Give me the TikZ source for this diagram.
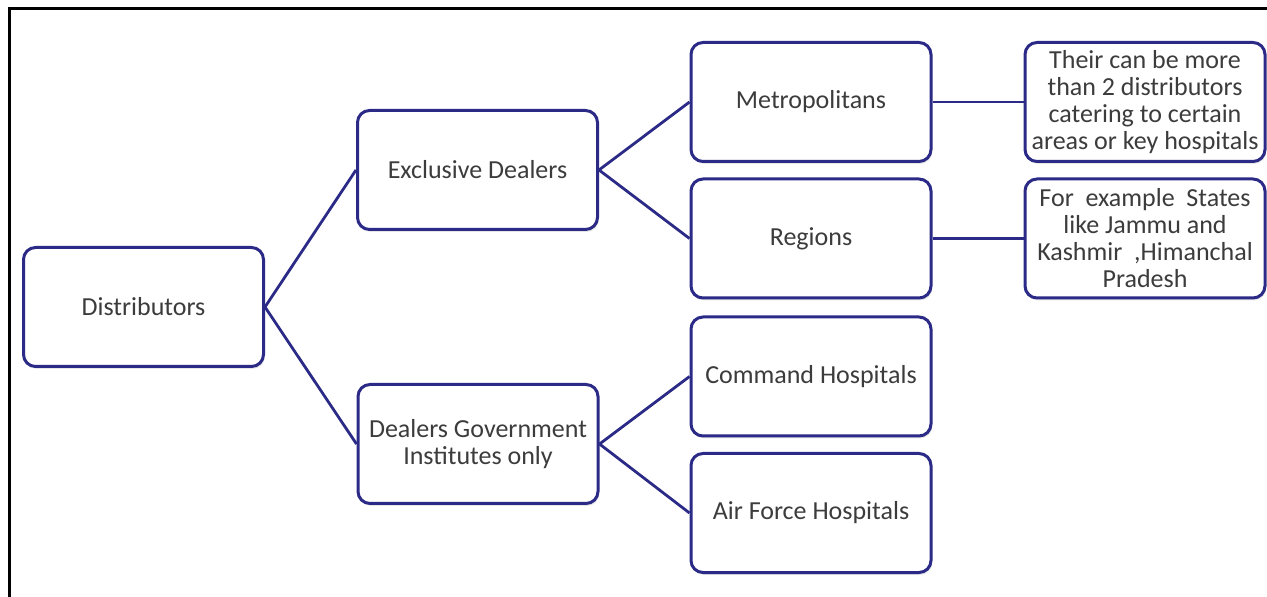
\documentclass[tikz,border=0pt]{standalone}
\usepackage{fontspec}
\setmainfont{Carlito}
\usetikzlibrary{shadows}
\definecolor{boxblue}{RGB}{43,43,135}
\definecolor{txtgray}{RGB}{60,60,60}
\tikzset{
  box/.style={draw=boxblue, line width=1.5pt, rounded corners=6pt, fill=white,
    minimum width=120pt, minimum height=59.5pt, align=center, text=txtgray,
    font=\fontsize{13}{13.5}\selectfont, inner sep=1pt,
    drop shadow={opacity=0.2, shadow xshift=0.6pt, shadow yshift=-1.2pt}},
  link/.style={boxblue, line width=1.4pt}
}
\begin{document}
\begin{tikzpicture}[x=0.5pt,y=-0.5pt]
\useasboundingbox (0,0) rectangle (1267,597);
\draw[black,line width=1.5pt] (9,597) -- (9,9) -- (1267,9);

% boxes
\node[box] (dist) at (143.5,307) {Distributors};
\node[box] (excl) at (477.5,170) {Exclusive Dealers};
\node[box] (govt) at (478,444) {Dealers Government\\Institutes only};
\node[box] (metro) at (811,102) {Metropolitans};
\node[box] (regions) at (811,238.5) {Regions};
\node[box] (command) at (811,376.5) {Command Hospitals};
\node[box] (airforce) at (811,513) {Air Force Hospitals};
\node[box] (note1) at (1145,102) {Their can be more\\than 2 distributors\\catering to certain\\areas or key hospitals};
\node[box] (note2) at (1145,238.5) {For\ \ example\ \ States\\like Jammu and\\Kashmir\ \ ,Himanchal\\Pradesh};

% connectors
\foreach \a/\b in {dist/excl, dist/govt, excl/metro, excl/regions, govt/command, govt/airforce, metro/note1, regions/note2}
  \draw[link] (\a.east) -- (\b.west);
\end{tikzpicture}
\end{document}
